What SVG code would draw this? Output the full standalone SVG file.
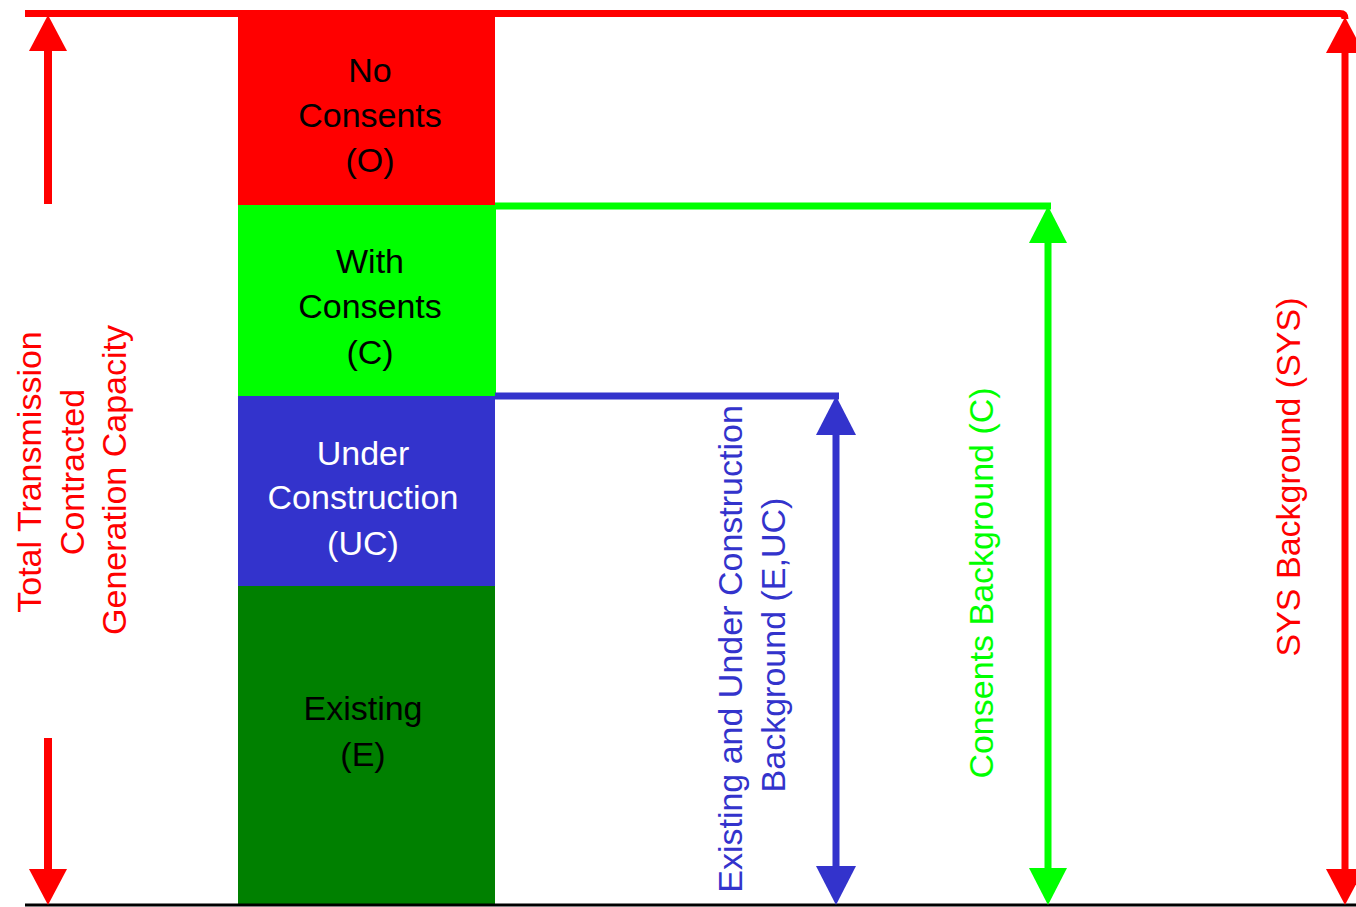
<svg xmlns="http://www.w3.org/2000/svg" width="1356" height="907" viewBox="0 0 1356 907">
<style>
text{font-family:"Liberation Sans",Arial,sans-serif;font-size:34px;text-anchor:middle}
.lbl{fill:#000}
.red{fill:#ff0000}
.grn{fill:#00ff00}
.blu{fill:#3333cc}
.ln{fill:none;stroke-linecap:butt}
</style>
<defs>
<marker id="hr" markerUnits="userSpaceOnUse" viewBox="0 0 36 38" refX="14" refY="19" markerWidth="36" markerHeight="38" orient="auto-start-reverse"><path d="M0,0 L36,19 L0,38 Z" fill="#ff0000"/></marker>
<marker id="hg" markerUnits="userSpaceOnUse" viewBox="0 0 37 38" refX="15" refY="19" markerWidth="37" markerHeight="38" orient="auto-start-reverse"><path d="M0,0 L37,19 L0,38 Z" fill="#00ff00"/></marker>
<marker id="hb" markerUnits="userSpaceOnUse" viewBox="0 0 39 40" refX="17" refY="20" markerWidth="39" markerHeight="40" orient="auto-start-reverse"><path d="M0,0 L39,20 L0,40 Z" fill="#3333cc"/></marker>
</defs>
<rect width="1356" height="907" fill="#fff"/>

<g id="node-no-consents">
<rect x="238" y="17" width="257" height="188" fill="#ff0000"/>
<text class="lbl" x="370" y="82">No</text>
<text class="lbl" x="370" y="127">Consents</text>
<text class="lbl" x="370" y="172">(O)</text>
</g>
<g id="node-with-consents">
<rect x="238" y="205" width="258" height="191" fill="#00ff00"/>
<text class="lbl" x="370" y="273">With</text>
<text class="lbl" x="370" y="318">Consents</text>
<text class="lbl" x="370" y="364">(C)</text>
</g>
<g id="node-under-construction">
<rect x="238" y="396" width="257" height="190" fill="#3333cc"/>
<text x="363" y="465" fill="#fff">Under</text>
<text x="363" y="509" fill="#fff">Construction</text>
<text x="363" y="555" fill="#fff">(UC)</text>
</g>
<g id="node-existing">
<rect x="238" y="586" width="257" height="319" fill="#008000"/>
<text class="lbl" x="363" y="720">Existing</text>
<text class="lbl" x="363" y="766">(E)</text>
</g>

<g id="connectors">
<line x1="25" y1="905" x2="1356" y2="905" stroke="#000" stroke-width="3"/>
<path class="ln" d="M25,13.5 H1340 Q1345,13.5 1345,19" stroke="#ff0000" stroke-width="7"/>
<line class="ln" x1="48" y1="204" x2="48" y2="37" stroke="#ff0000" stroke-width="8" marker-end="url(#hr)"/>
<line class="ln" x1="48" y1="738" x2="48" y2="883" stroke="#ff0000" stroke-width="8" marker-end="url(#hr)"/>
<line class="ln" x1="1345" y1="39" x2="1345" y2="883" stroke="#ff0000" stroke-width="7" marker-start="url(#hr)" marker-end="url(#hr)"/>
<line class="ln" x1="495" y1="206" x2="1051" y2="206" stroke="#00ff00" stroke-width="7"/>
<line class="ln" x1="1048" y1="228" x2="1048" y2="883" stroke="#00ff00" stroke-width="7" marker-start="url(#hg)" marker-end="url(#hg)"/>
<line class="ln" x1="495" y1="396" x2="839" y2="396" stroke="#3333cc" stroke-width="7"/>
<line class="ln" x1="836" y1="418" x2="836" y2="883" stroke="#3333cc" stroke-width="7" marker-start="url(#hb)" marker-end="url(#hb)"/>
</g>

<g id="label-total">
<text class="red" transform="translate(41,472) rotate(-90)">Total Transmission</text>
<text class="red" transform="translate(84,472) rotate(-90)">Contracted</text>
<text class="red" transform="translate(126,480) rotate(-90)">Generation Capacity</text>
</g>
<g id="label-euc">
<text class="blu" transform="translate(742,649) rotate(-90)">Existing and Under Construction</text>
<text class="blu" transform="translate(785,645) rotate(-90)">Background (E,UC)</text>
</g>
<g id="label-c">
<text class="grn" transform="translate(993,583) rotate(-90)">Consents Background (C)</text>
</g>
<g id="label-sys">
<text class="red" transform="translate(1300,477) rotate(-90)">SYS Background (SYS)</text>
</g>
</svg>
